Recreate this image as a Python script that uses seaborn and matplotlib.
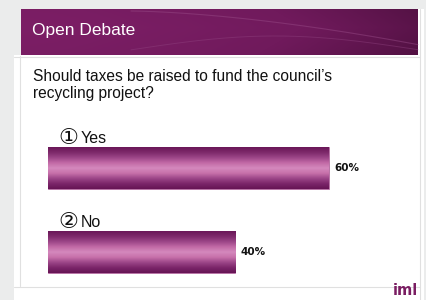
import numpy as np
import pandas as pd
import matplotlib
matplotlib.use("Agg")
import matplotlib.pyplot as plt
import seaborn as sns
from matplotlib.colors import LinearSegmentedColormap
from matplotlib.patches import Rectangle

title = "Open Debate"
question = "Should taxes be raised to fund the council\u2019s\nrecycling project?"
option_marks = ["\u2460", "\u2461"]
option_names = ["Yes", "No"]
values = [60, 40]
value_labels = ["60%", "40%"]
brand = "iml"

sns.set_theme(style="white")
plt.rcParams['font.family'] = ['Liberation Sans', 'DejaVu Sans']

W, H = 427, 300
fig = plt.figure(figsize=(W / 100, H / 100), dpi=100)
fig.patch.set_facecolor("#ebecec")

def fx(px):
    return px / W

def fy(py):
    return 1 - py / H

bg = fig.add_axes([0, 0, 1, 1])
bg.set_xlim(0, W)
bg.set_ylim(H, 0)
bg.axis("off")

bg.add_patch(Rectangle((14, 55), 410, 245, facecolor="white", edgecolor="none"))
bg.add_patch(Rectangle((418, 9), 6, 50, facecolor="white", edgecolor="none"))
line_c = "#e0e0e0"
bg.plot([420.5, 420.5], [9, 300], color=line_c, lw=0.8)
bg.plot([20.5, 20.5], [56, 286], color=line_c, lw=0.8)
bg.plot([14, 420], [56.5, 56.5], color=line_c, lw=0.8)
bg.plot([14, 420], [286.5, 286.5], color=line_c, lw=0.8)

hx0, hx1, hy0, hy1 = 21, 418, 9, 55
xs = np.linspace(0, 1, 300)
ys = np.linspace(0, 1, 60)
X, Y = np.meshgrid(xs, ys)
Z = 0.35 + 0.5 * X ** 1.5 + 0.12 * np.abs(Y - 0.4)
hcmap = LinearSegmentedColormap.from_list("h", ["#7e1f67", "#701a5c", "#4a0f3c"])
bg.imshow(Z, extent=(hx0, hx1, hy1, hy0), cmap=hcmap, aspect="auto", vmin=0.3, vmax=1.0, zorder=2)
t = np.linspace(hx0 + 110, hx1, 200)
bg.plot(t, 11 + 34 * ((t - 130) / 290) ** 1.6, color="#9a4d89", lw=0.8, alpha=0.45, zorder=3)
bg.plot(t, 50 - 14 * np.sin((t - 130) / 290 * np.pi), color="#934683", lw=0.7, alpha=0.4, zorder=3)
bg.text(32, 31, title, color="white", fontsize=12.5, va="center", ha="left", zorder=4)

bg.text(33, 85, question, color="#111111", fontsize=11.2, va="center", ha="left",
        linespacing=1.2)

bg.text(418, 298, brand, color="#7a1d62", fontsize=10.5, fontweight="bold",
        va="bottom", ha="right", family="DejaVu Sans")

ax = fig.add_axes([fx(48), fy(294), fx(370), (294 - 126) / H])
df = pd.DataFrame({"option": option_names, "value": values})
sns.barplot(data=df, x="value", y="option", orient="h", width=0.5,
            color="#8a2a74", ax=ax, saturation=1)

bcmap = LinearSegmentedColormap.from_list(
    "b", ["#6a1758", "#7e2a6b", "#9c4688", "#c26aa6", "#d489bd", "#c770aa",
          "#9c4688", "#7c266a", "#661555"])
grad = np.linspace(0, 1, 100).reshape(-1, 1)
for p in ax.patches:
    x0, y0 = p.get_x(), p.get_y()
    w, h = p.get_width(), p.get_height()
    im = ax.imshow(grad, extent=(x0, x0 + w, y0 + h, y0), cmap=bcmap,
                   aspect="auto", zorder=3, interpolation="bilinear")
    im.set_clip_path(p)
    p.set_edgecolor("#b56aa0")
    p.set_linewidth(0.5)

for i, (mark, name, v, lab) in enumerate(zip(option_marks, option_names, values, value_labels)):
    ax.text(2.2, i - 0.29, mark, fontsize=16, color="#111111", va="baseline", ha="left",
            family="DejaVu Sans")
    ax.text(7.0, i - 0.30, name, fontsize=11.5, color="#111111", va="baseline", ha="left")
    ax.text(v + 1.2, i, lab, fontsize=7.5, fontweight="bold", color="#111111",
            va="center", ha="left", family="DejaVu Sans")

ax.set_xlim(0, 370 / 4.68)
ax.set_ylim(1.5, -0.5)
ax.axis("off")
ax.patch.set_alpha(0)

fig.savefig("out.png", dpi=100, facecolor=fig.get_facecolor())
